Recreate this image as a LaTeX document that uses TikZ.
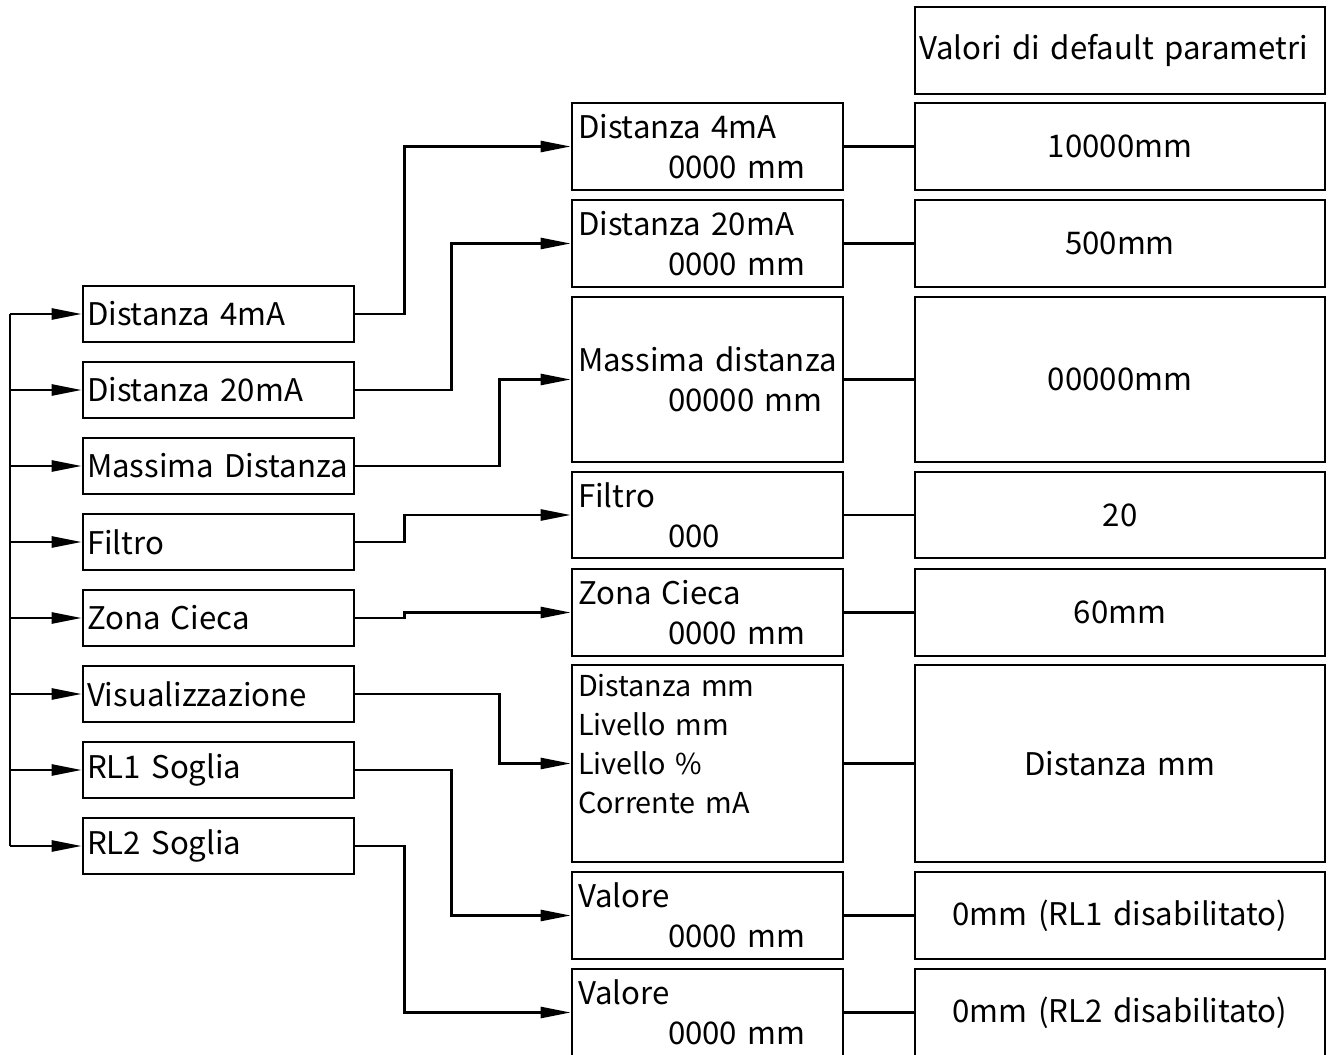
\documentclass[tikz,border=0pt]{standalone}
\usepackage{fontspec}
\setmainfont{Noto Sans CJK SC}
\usetikzlibrary{arrows.meta}
\tikzset{every node/.append style={font=\fontsize{15.6}{20}\selectfont}}
\tikzset{
  menubox/.style={draw, line width=1.3pt, minimum width=135.5pt, minimum height=28pt,
    text width=131.5pt, inner xsep=2pt, align=left},
  setbox/.style={draw, line width=1.3pt, minimum width=135.5pt,
    text width=129.5pt, inner xsep=3pt, align=left},
  defbox/.style={draw, line width=1.3pt, minimum width=205pt,
    text width=201pt, inner xsep=2pt, align=center},
}

\begin{document}
\begin{tikzpicture}[x=0.5pt, y=-0.5pt, line width=1.3pt, >={Triangle[length=15pt,width=5.5pt]}]
    \clip (0,0) rectangle (1330,1055);
    % the left menu
    \node[menubox] (l1) at (218.5,314) {Distanza 4mA};
    \node[menubox] (l2) at (218.5,390) {Distanza 20mA};
    \node[menubox] (l3) at (218.5,466) {Massima Distanza};
    \node[menubox] (l4) at (218.5,542) {Filtro};
    \node[menubox] (l5) at (218.5,618) {Zona Cieca};
    \node[menubox] (l6) at (218.5,694) {Visualizzazione};
    \node[menubox] (l7) at (218.5,770) {RL1 Soglia};
    \node[menubox] (l8) at (218.5,846) {RL2 Soglia};
    % the settings
    \node[setbox, minimum height=43.5pt] (m1) at (707.5,146.5) {Distanza 4mA\\\hspace*{45pt}0000 mm};
    \node[setbox, minimum height=43.5pt] (m2) at (707.5,243.5) {Distanza 20mA\\\hspace*{45pt}0000 mm};
    \node[setbox, minimum height=82.5pt] (m3) at (707.5,379.5) {Massima distanza\\\hspace*{45pt}00000 mm};
    \node[setbox, minimum height=43pt] (m4) at (707.5,515) {Filtro\\\hspace*{45pt}000};
    \node[setbox, minimum height=43.5pt] (m5) at (707.5,612.5) {Zona Cieca\\\hspace*{45pt}0000 mm};
    \node[setbox, minimum height=98.5pt, font=\fontsize{14.4}{19.5}\selectfont] (m6) at (707.5,763.5)
        {Distanza mm\\Livello mm\\Livello \%\\Corrente mA\\\mbox{}};
    \node[setbox, minimum height=43.5pt] (m7) at (707.5,915.5) {Valore\\\hspace*{45pt}0000 mm};
    \node[setbox, minimum height=43.5pt] (m8) at (707.5,1012.5) {Valore\\\hspace*{45pt}0000 mm};
    % the default values
    \node[defbox, minimum height=43.5pt, align=left] (r0) at (1120,50.5) {Valori di default parametri};
    \node[defbox, minimum height=43.5pt] (r1) at (1120,146.5) {10000mm};
    \node[defbox, minimum height=43.5pt] (r2) at (1120,243.5) {500mm};
    \node[defbox, minimum height=82.5pt] (r3) at (1120,379.5) {00000mm};
    \node[defbox, minimum height=43pt] (r4) at (1120,515) {20};
    \node[defbox, minimum height=43.5pt] (r5) at (1120,612.5) {60mm};
    \node[defbox, minimum height=98.5pt] (r6) at (1120,763.5) {Distanza mm};
    \node[defbox, minimum height=43.5pt] (r7) at (1120,915.5) {0mm (RL1 disabilitato)};
    \node[defbox, minimum height=43.5pt] (r8) at (1120,1012.5) {0mm (RL2 disabilitato)};
    % the bus into the menu
    \coordinate (bus) at (10,0);
    \draw (bus |- l1.west) -- (bus |- l8.west);
    \foreach \i in {1,...,8}
        \draw[->] (bus |- l\i.west) -- (l\i.west);
    % menu to settings
    \draw[->] (l1.east) -- ++(49,0) |- (m1.west);
    \draw[->] (l2.east) -- ++(96,0) |- (m2.west);
    \draw[->] (l3.east) -- ++(144,0) |- (m3.west);
    \draw[->] (l4.east) -- ++(49,0) |- (m4.west);
    \draw[->] (l5.east) -- ++(49,0) |- (m5.west);
    \draw[->] (l6.east) -- ++(144,0) |- (m6.west);
    \draw[->] (l7.east) -- ++(96,0) |- (m7.west);
    \draw[->] (l8.east) -- ++(49,0) |- (m8.west);
    % settings to defaults
    \foreach \i in {1,...,8}
        \draw (m\i.east) -- (r\i.west);
\end{tikzpicture}
\end{document}
